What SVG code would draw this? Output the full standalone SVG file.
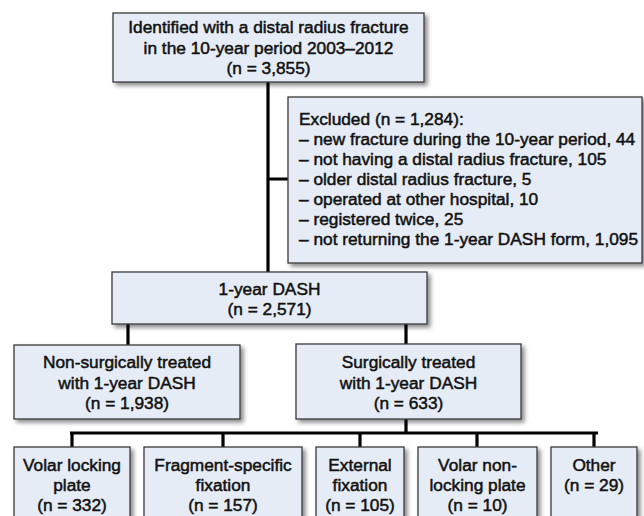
<svg xmlns="http://www.w3.org/2000/svg" width="644" height="516" viewBox="0 0 644 516">
<defs>
<filter id="sh" x="-10%" y="-10%" width="130%" height="140%">
<feDropShadow dx="3" dy="3" stdDeviation="2" flood-color="#000" flood-opacity="0.45"/>
</filter>
<style>
.box{fill:#e6ecf6;stroke:#3a3a3a;stroke-width:1.3;filter:url(#sh)}
.t{font-family:"Liberation Sans",Arial,sans-serif;font-size:17.3px;fill:#111;stroke:#111;stroke-width:0.5}
.c{text-anchor:middle}
.ln{stroke:#000;stroke-width:3.2;fill:none}
</style>
</defs>
<rect width="644" height="516" fill="#fff"/>
<g id="connectors">
<path class="ln" d="M268 82V272M268 179H288"/>
<path class="ln" d="M128 324V345M406 324V344"/>
<path class="ln" d="M406 419V433M70 433H598M72 433V447M223 433V447M360 433V447M477 433V447M594 433V447"/>
</g>
<g id="identified">
<rect class="box" x="113" y="13" width="311" height="69"/>
<text class="t c" x="268.5" y="33">Identified with a distal radius fracture</text>
<text class="t c" x="268.5" y="54">in the 10-year period 2003–2012</text>
<text class="t c" x="268.5" y="74">(n = 3,855)</text>
</g>
<g id="excluded">
<rect class="box" x="288" y="97" width="354" height="166"/>
<text class="t" x="299" y="125">Excluded (n = 1,284):</text>
<text class="t" x="299" y="145">– new fracture during the 10-year period, 44</text>
<text class="t" x="299" y="165">– not having a distal radius fracture, 105</text>
<text class="t" x="299" y="185">– older distal radius fracture, 5</text>
<text class="t" x="299" y="205">– operated at other hospital, 10</text>
<text class="t" x="299" y="225">– registered twice, 25</text>
<text class="t" x="299" y="245">– not returning the 1-year DASH form, 1,095</text>
</g>
<g id="dash">
<rect class="box" x="112" y="272" width="315" height="52"/>
<text class="t c" x="269.5" y="295">1-year DASH</text>
<text class="t c" x="269.5" y="315">(n = 2,571)</text>
</g>
<g id="nonsurgical">
<rect class="box" x="14" y="345" width="226" height="74"/>
<text class="t c" x="127" y="368">Non-surgically treated</text>
<text class="t c" x="127" y="389">with 1-year DASH</text>
<text class="t c" x="127" y="409">(n = 1,938)</text>
</g>
<g id="surgical">
<rect class="box" x="296" y="344" width="225" height="75"/>
<text class="t c" x="408.5" y="368">Surgically treated</text>
<text class="t c" x="408.5" y="389">with 1-year DASH</text>
<text class="t c" x="408.5" y="409">(n = 633)</text>
</g>
<g id="volarlocking">
<rect class="box" x="14" y="447" width="116" height="80"/>
<text class="t c" x="72" y="471">Volar locking</text>
<text class="t c" x="72" y="491">plate</text>
<text class="t c" x="72" y="511">(n = 332)</text>
</g>
<g id="fragment">
<rect class="box" x="144" y="447" width="158" height="80"/>
<text class="t c" x="223" y="471">Fragment-specific</text>
<text class="t c" x="223" y="491">fixation</text>
<text class="t c" x="223" y="511">(n = 157)</text>
</g>
<g id="external">
<rect class="box" x="316" y="447" width="88" height="80"/>
<text class="t c" x="360" y="471">External</text>
<text class="t c" x="360" y="491">fixation</text>
<text class="t c" x="360" y="511">(n = 105)</text>
</g>
<g id="volarnonlocking">
<rect class="box" x="418" y="447" width="119" height="80"/>
<text class="t c" x="477.5" y="471">Volar non-</text>
<text class="t c" x="477.5" y="491">locking plate</text>
<text class="t c" x="477.5" y="511">(n = 10)</text>
</g>
<g id="other">
<rect class="box" x="551" y="447" width="86" height="80"/>
<text class="t c" x="594" y="471">Other</text>
<text class="t c" x="594" y="491">(n = 29)</text>
</g>
</svg>
